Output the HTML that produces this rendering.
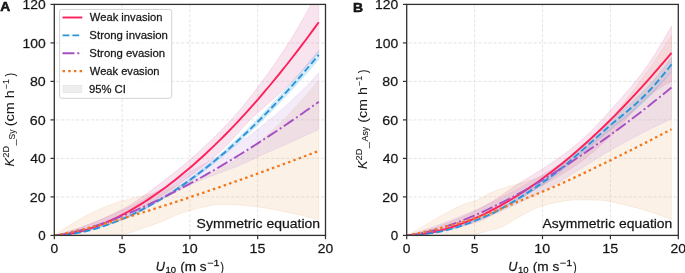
<!DOCTYPE html>
<html><head><meta charset="utf-8"><style>
html,body{margin:0;padding:0;background:#fff;}
svg{display:block;}
svg{will-change:transform;}
text{font-family:"Liberation Sans", sans-serif;fill:#1a1a1a;stroke:#000;stroke-width:0.3px;stroke-opacity:0.7;}
.tk{font-size:13px;}
.lg{font-size:10.3px;}
.ann{font-size:12.4px;}
.al{font-size:13px;}
.pl{font-size:12.6px;font-weight:bold;fill:#000;}
</style></head><body>
<svg width="685" height="273" viewBox="0 0 685 273">
<rect width="685" height="273" fill="#fff"/>
<defs><clipPath id="ca"><rect x="54.30" y="4.40" width="271.20" height="231.00"/></clipPath><clipPath id="cb"><rect x="406.70" y="4.40" width="271.60" height="231.00"/></clipPath></defs>
<line x1="122.10" y1="235.40" x2="122.10" y2="4.40" stroke="#dedede" stroke-width="0.8" stroke-dasharray="3.2 1.8" stroke-dashoffset="2.0"/>
<line x1="189.90" y1="235.40" x2="189.90" y2="4.40" stroke="#dedede" stroke-width="0.8" stroke-dasharray="3.2 1.8" stroke-dashoffset="2.0"/>
<line x1="257.70" y1="235.40" x2="257.70" y2="4.40" stroke="#dedede" stroke-width="0.8" stroke-dasharray="3.2 1.8" stroke-dashoffset="2.0"/>
<line x1="54.30" y1="196.90" x2="325.50" y2="196.90" stroke="#dedede" stroke-width="0.8" stroke-dasharray="3.2 1.8" stroke-dashoffset="3.2"/>
<line x1="54.30" y1="158.40" x2="325.50" y2="158.40" stroke="#dedede" stroke-width="0.8" stroke-dasharray="3.2 1.8" stroke-dashoffset="3.2"/>
<line x1="54.30" y1="119.90" x2="325.50" y2="119.90" stroke="#dedede" stroke-width="0.8" stroke-dasharray="3.2 1.8" stroke-dashoffset="3.2"/>
<line x1="54.30" y1="81.40" x2="325.50" y2="81.40" stroke="#dedede" stroke-width="0.8" stroke-dasharray="3.2 1.8" stroke-dashoffset="3.2"/>
<line x1="54.30" y1="42.90" x2="325.50" y2="42.90" stroke="#dedede" stroke-width="0.8" stroke-dasharray="3.2 1.8" stroke-dashoffset="3.2"/>
<g clip-path="url(#ca)">
<path d="M54.30,235.40 L57.65,233.03 L60.99,230.73 L64.34,228.51 L67.69,226.35 L71.04,224.26 L74.38,222.28 L77.73,220.34 L81.08,218.44 L84.42,216.61 L87.77,214.85 L91.12,213.17 L94.47,211.58 L97.81,210.02 L101.16,208.51 L104.51,207.06 L107.85,205.68 L111.20,204.40 L114.55,203.23 L117.89,202.16 L121.24,201.17 L124.59,200.25 L127.94,199.39 L131.28,198.56 L134.63,197.76 L137.98,196.97 L141.32,196.19 L144.67,195.38 L148.02,194.56 L151.37,193.69 L154.71,192.76 L158.06,191.80 L161.41,190.82 L164.75,189.82 L168.10,188.81 L171.45,187.78 L174.80,186.71 L178.14,185.62 L181.49,184.50 L184.84,183.34 L188.18,182.13 L191.53,180.89 L194.88,179.62 L198.22,178.33 L201.57,177.00 L204.92,175.63 L208.27,174.22 L211.61,172.76 L214.96,171.24 L218.31,169.66 L221.65,168.01 L225.00,166.28 L228.35,164.47 L231.70,162.57 L235.04,160.52 L238.39,158.32 L241.74,155.99 L245.08,153.52 L248.43,150.95 L251.78,148.28 L255.13,145.51 L258.47,142.68 L261.82,139.78 L265.17,136.83 L268.51,133.85 L271.86,130.84 L275.21,127.81 L278.55,124.68 L281.90,121.41 L285.25,118.04 L288.60,114.57 L291.94,111.02 L295.29,107.42 L298.64,103.78 L301.98,100.09 L305.33,96.32 L308.68,92.46 L312.03,88.52 L315.37,84.51 L318.72,80.44 L318.72,219.62 L315.37,218.78 L312.03,217.97 L308.68,217.16 L305.33,216.37 L301.98,215.60 L298.64,214.83 L295.29,214.09 L291.94,213.35 L288.60,212.62 L285.25,211.89 L281.90,211.18 L278.55,210.49 L275.21,209.83 L271.86,209.19 L268.51,208.59 L265.17,207.99 L261.82,207.43 L258.47,206.94 L255.13,206.52 L251.78,206.13 L248.43,205.77 L245.08,205.45 L241.74,205.19 L238.39,204.99 L235.04,204.83 L231.70,204.69 L228.35,204.56 L225.00,204.47 L221.65,204.41 L218.31,204.45 L214.96,204.79 L211.61,205.36 L208.27,206.08 L204.92,206.85 L201.57,207.57 L198.22,208.31 L194.88,209.12 L191.53,210.00 L188.18,210.94 L184.84,211.97 L181.49,213.11 L178.14,214.37 L174.80,215.79 L171.45,217.32 L168.10,218.87 L164.75,220.35 L161.41,221.69 L158.06,222.97 L154.71,224.21 L151.37,225.41 L148.02,226.57 L144.67,227.71 L141.32,228.81 L137.98,229.92 L134.63,231.11 L131.28,232.25 L127.94,233.17 L124.59,233.75 L121.24,234.14 L117.89,234.48 L114.55,234.75 L111.20,234.93 L107.85,235.03 L104.51,235.09 L101.16,235.14 L97.81,235.18 L94.47,235.21 L91.12,235.24 L87.77,235.27 L84.42,235.29 L81.08,235.31 L77.73,235.32 L74.38,235.34 L71.04,235.36 L67.69,235.37 L64.34,235.38 L60.99,235.39 L57.65,235.40 L54.30,235.40 Z" fill="rgb(235,185,135)" fill-opacity="0.2" stroke="rgb(235,185,135)" stroke-opacity="0.2" stroke-width="1"/>
<path d="M54.30,235.40 L57.65,234.48 L60.99,233.52 L64.34,232.52 L67.69,231.48 L71.04,230.41 L74.38,229.30 L77.73,228.16 L81.08,226.99 L84.42,225.79 L87.77,224.55 L91.12,223.29 L94.47,222.00 L97.81,220.68 L101.16,219.33 L104.51,217.96 L107.85,216.56 L111.20,215.15 L114.55,213.70 L117.89,212.24 L121.24,210.76 L124.59,209.24 L127.94,207.65 L131.28,205.99 L134.63,204.26 L137.98,202.48 L141.32,200.65 L144.67,198.77 L148.02,196.85 L151.37,194.90 L154.71,192.91 L158.06,190.91 L161.41,188.89 L164.75,186.86 L168.10,184.83 L171.45,182.79 L174.80,180.77 L178.14,178.75 L181.49,176.76 L184.84,174.79 L188.18,172.85 L191.53,170.95 L194.88,169.09 L198.22,167.25 L201.57,165.43 L204.92,163.62 L208.27,161.80 L211.61,159.97 L214.96,158.11 L218.31,156.21 L221.65,154.27 L225.00,152.27 L228.35,150.20 L231.70,148.05 L235.04,145.84 L238.39,143.56 L241.74,141.23 L245.08,138.84 L248.43,136.40 L251.78,133.91 L255.13,131.37 L258.47,128.78 L261.82,126.14 L265.17,123.46 L268.51,120.74 L271.86,117.98 L275.21,115.19 L278.55,112.34 L281.90,109.42 L285.25,106.44 L288.60,103.39 L291.94,100.27 L295.29,97.09 L298.64,93.85 L301.98,90.55 L305.33,87.19 L308.68,83.77 L312.03,80.26 L315.37,76.55 L318.72,72.74 L318.72,129.33 L315.37,130.90 L312.03,132.46 L308.68,134.02 L305.33,135.57 L301.98,137.11 L298.64,138.64 L295.29,140.16 L291.94,141.68 L288.60,143.18 L285.25,144.67 L281.90,146.15 L278.55,147.62 L275.21,149.08 L271.86,150.55 L268.51,152.03 L265.17,153.52 L261.82,155.03 L258.47,156.59 L255.13,158.18 L251.78,159.79 L248.43,161.38 L245.08,162.93 L241.74,164.43 L238.39,165.83 L235.04,167.17 L231.70,168.45 L228.35,169.70 L225.00,170.95 L221.65,172.21 L218.31,173.49 L214.96,174.74 L211.61,175.99 L208.27,177.25 L204.92,178.55 L201.57,179.90 L198.22,181.34 L194.88,182.83 L191.53,184.38 L188.18,185.98 L184.84,187.62 L181.49,189.29 L178.14,190.98 L174.80,192.69 L171.45,194.40 L168.10,196.12 L164.75,197.83 L161.41,199.53 L158.06,201.32 L154.71,203.19 L151.37,205.12 L148.02,207.08 L144.67,209.03 L141.32,210.95 L137.98,212.82 L134.63,214.60 L131.28,216.26 L127.94,217.78 L124.59,219.13 L121.24,220.28 L117.89,221.37 L114.55,222.45 L111.20,223.51 L107.85,224.56 L104.51,225.58 L101.16,226.57 L97.81,227.54 L94.47,228.47 L91.12,229.36 L87.77,230.21 L84.42,231.01 L81.08,231.75 L77.73,232.45 L74.38,233.08 L71.04,233.65 L67.69,234.15 L64.34,234.58 L60.99,234.94 L57.65,235.21 L54.30,235.40 Z" fill="rgb(195,155,220)" fill-opacity="0.2" stroke="rgb(195,155,220)" stroke-opacity="0.2" stroke-width="1"/>
<path d="M54.30,235.40 L57.65,235.32 L60.99,235.12 L64.34,234.83 L67.69,234.46 L71.04,234.00 L74.38,233.47 L77.73,232.86 L81.08,232.19 L84.42,231.44 L87.77,230.63 L91.12,229.75 L94.47,228.81 L97.81,227.81 L101.16,226.74 L104.51,225.62 L107.85,224.44 L111.20,223.19 L114.55,221.89 L117.89,220.54 L121.24,219.13 L124.59,217.66 L127.94,216.14 L131.28,214.56 L134.63,212.93 L137.98,211.24 L141.32,209.51 L144.67,207.72 L148.02,205.88 L151.37,203.99 L154.71,202.04 L158.06,200.05 L161.41,198.01 L164.75,195.91 L168.10,193.77 L171.45,191.58 L174.80,189.34 L178.14,187.05 L181.49,184.71 L184.84,182.33 L188.18,179.90 L191.53,177.42 L194.88,174.89 L198.22,172.32 L201.57,169.70 L204.92,167.03 L208.27,164.32 L211.61,161.56 L214.96,158.76 L218.31,155.91 L221.65,153.02 L225.00,150.08 L228.35,147.09 L231.70,144.06 L235.04,140.99 L238.39,137.88 L241.74,134.72 L245.08,131.51 L248.43,128.26 L251.78,124.97 L255.13,121.64 L258.47,118.26 L261.82,114.84 L265.17,111.38 L268.51,107.87 L271.86,104.32 L275.21,100.73 L278.55,97.10 L281.90,93.43 L285.25,89.71 L288.60,85.95 L291.94,82.15 L295.29,78.31 L298.64,74.43 L301.98,70.50 L305.33,66.54 L308.68,62.53 L312.03,58.49 L315.37,54.40 L318.72,50.27 L318.72,59.30 L315.37,63.23 L312.03,67.12 L308.68,70.97 L305.33,74.78 L301.98,78.55 L298.64,82.28 L295.29,85.97 L291.94,89.63 L288.60,93.24 L285.25,96.82 L281.90,100.35 L278.55,103.85 L275.21,107.30 L271.86,110.72 L268.51,114.09 L265.17,117.43 L261.82,120.72 L258.47,123.97 L255.13,127.19 L251.78,130.36 L248.43,133.49 L245.08,136.58 L241.74,139.63 L238.39,142.63 L235.04,145.60 L231.70,148.52 L228.35,151.40 L225.00,154.24 L221.65,157.03 L218.31,159.79 L214.96,162.50 L211.61,165.16 L208.27,167.79 L204.92,170.37 L201.57,172.90 L198.22,175.39 L194.88,177.84 L191.53,180.25 L188.18,182.60 L184.84,184.92 L181.49,187.19 L178.14,189.41 L174.80,191.59 L171.45,193.72 L168.10,195.80 L164.75,197.84 L161.41,199.83 L158.06,201.78 L154.71,203.67 L151.37,205.52 L148.02,207.32 L144.67,209.07 L141.32,210.77 L137.98,212.42 L134.63,214.02 L131.28,215.58 L127.94,217.08 L124.59,218.52 L121.24,219.92 L117.89,221.26 L114.55,222.55 L111.20,223.79 L107.85,224.97 L104.51,226.10 L101.16,227.17 L97.81,228.18 L94.47,229.13 L91.12,230.03 L87.77,230.86 L84.42,231.63 L81.08,232.34 L77.73,232.99 L74.38,233.56 L71.04,234.07 L67.69,234.50 L64.34,234.86 L60.99,235.14 L57.65,235.32 L54.30,235.40 Z" fill="rgb(55,170,230)" fill-opacity="0.2" stroke="rgb(55,170,230)" stroke-opacity="0.2" stroke-width="1"/>
<path d="M54.30,235.40 L57.65,234.71 L60.99,233.94 L64.34,233.08 L67.69,232.16 L71.04,231.16 L74.38,230.09 L77.73,228.96 L81.08,227.76 L84.42,226.51 L87.77,225.20 L91.12,223.84 L94.47,222.44 L97.81,220.98 L101.16,219.49 L104.51,217.96 L107.85,216.39 L111.20,214.79 L114.55,213.17 L117.89,211.52 L121.24,209.84 L124.59,208.11 L127.94,206.24 L131.28,204.22 L134.63,202.08 L137.98,199.84 L141.32,197.51 L144.67,195.10 L148.02,192.64 L151.37,190.14 L154.71,187.61 L158.06,185.07 L161.41,182.53 L164.75,180.01 L168.10,177.45 L171.45,174.85 L174.80,172.20 L178.14,169.51 L181.49,166.77 L184.84,163.98 L188.18,161.15 L191.53,158.26 L194.88,155.33 L198.22,152.34 L201.57,149.30 L204.92,146.20 L208.27,143.04 L211.61,139.82 L214.96,136.54 L218.31,133.18 L221.65,129.77 L225.00,126.28 L228.35,122.72 L231.70,119.10 L235.04,115.39 L238.39,111.60 L241.74,107.66 L245.08,103.59 L248.43,99.41 L251.78,95.13 L255.13,90.77 L258.47,86.35 L261.82,81.86 L265.17,77.30 L268.51,72.67 L271.86,67.96 L275.21,63.17 L278.55,58.29 L281.90,53.32 L285.25,48.25 L288.60,43.09 L291.94,37.78 L295.29,32.21 L298.64,26.47 L301.98,20.61 L305.33,14.73 L308.68,8.90 L312.03,3.18 L315.37,-2.47 L318.72,-8.11 L318.72,52.53 L315.37,56.36 L312.03,60.14 L308.68,63.88 L305.33,67.56 L301.98,71.18 L298.64,74.73 L295.29,78.21 L291.94,81.62 L288.60,84.95 L285.25,88.16 L281.90,91.27 L278.55,94.30 L275.21,97.27 L271.86,100.21 L268.51,103.13 L265.17,106.06 L261.82,109.03 L258.47,112.04 L255.13,115.14 L251.78,118.32 L248.43,121.64 L245.08,125.16 L241.74,128.84 L238.39,132.60 L235.04,136.38 L231.70,140.11 L228.35,143.71 L225.00,147.12 L221.65,150.28 L218.31,153.27 L214.96,156.19 L211.61,159.04 L208.27,161.83 L204.92,164.56 L201.57,167.23 L198.22,169.85 L194.88,172.42 L191.53,174.93 L188.18,177.40 L184.84,179.83 L181.49,182.22 L178.14,184.57 L174.80,186.89 L171.45,189.18 L168.10,191.43 L164.75,193.67 L161.41,195.89 L158.06,198.13 L154.71,200.41 L151.37,202.68 L148.02,204.92 L144.67,207.13 L141.32,209.26 L137.98,211.30 L134.63,213.23 L131.28,215.02 L127.94,216.65 L124.59,218.09 L121.24,219.34 L117.89,220.53 L114.55,221.70 L111.20,222.86 L107.85,224.01 L104.51,225.12 L101.16,226.21 L97.81,227.26 L94.47,228.27 L91.12,229.24 L87.77,230.15 L84.42,231.01 L81.08,231.81 L77.73,232.55 L74.38,233.21 L71.04,233.79 L67.69,234.30 L64.34,234.72 L60.99,235.04 L57.65,235.27 L54.30,235.40 Z" fill="rgb(220,120,170)" fill-opacity="0.2" stroke="rgb(220,120,170)" stroke-opacity="0.2" stroke-width="1"/>
<path d="M54.30,235.40 L57.65,235.28 L60.99,235.02 L64.34,234.63 L67.69,234.14 L71.04,233.55 L74.38,232.87 L77.73,232.10 L81.08,231.25 L84.42,230.32 L87.77,229.31 L91.12,228.22 L94.47,227.06 L97.81,225.83 L101.16,224.53 L104.51,223.16 L107.85,221.73 L111.20,220.22 L114.55,218.66 L117.89,217.02 L121.24,215.33 L124.59,213.57 L127.94,211.75 L131.28,209.87 L134.63,207.94 L137.98,205.94 L141.32,203.88 L144.67,201.77 L148.02,199.60 L151.37,197.37 L154.71,195.09 L158.06,192.75 L161.41,190.35 L164.75,187.91 L168.10,185.40 L171.45,182.85 L174.80,180.24 L178.14,177.58 L181.49,174.86 L184.84,172.10 L188.18,169.28 L191.53,166.41 L194.88,163.49 L198.22,160.52 L201.57,157.50 L204.92,154.43 L208.27,151.31 L211.61,148.14 L214.96,144.92 L218.31,141.66 L221.65,138.34 L225.00,134.98 L228.35,131.57 L231.70,128.11 L235.04,124.61 L238.39,121.05 L241.74,117.45 L245.08,113.81 L248.43,110.12 L251.78,106.38 L255.13,102.59 L258.47,98.76 L261.82,94.89 L265.17,90.97 L268.51,87.00 L271.86,82.99 L275.21,78.94 L278.55,74.84 L281.90,70.69 L285.25,66.50 L288.60,62.27 L291.94,58.00 L295.29,53.68 L298.64,49.31 L301.98,44.91 L305.33,40.46 L308.68,35.97 L312.03,31.43 L315.37,26.85 L318.72,22.23" fill="none" stroke="#FF1F5B" stroke-width="1.9"/>
<path d="M54.30,235.40 L57.65,235.32 L60.99,235.13 L64.34,234.85 L67.69,234.48 L71.04,234.04 L74.38,233.52 L77.73,232.92 L81.08,232.26 L84.42,231.54 L87.77,230.74 L91.12,229.89 L94.47,228.97 L97.81,227.99 L101.16,226.96 L104.51,225.86 L107.85,224.70 L111.20,223.49 L114.55,222.22 L117.89,220.90 L121.24,219.52 L124.59,218.09 L127.94,216.61 L131.28,215.07 L134.63,213.48 L137.98,211.83 L141.32,210.14 L144.67,208.39 L148.02,206.60 L151.37,204.75 L154.71,202.86 L158.06,200.91 L161.41,198.92 L164.75,196.88 L168.10,194.79 L171.45,192.65 L174.80,190.46 L178.14,188.23 L181.49,185.95 L184.84,183.62 L188.18,181.25 L191.53,178.83 L194.88,176.37 L198.22,173.86 L201.57,171.30 L204.92,168.70 L208.27,166.05 L211.61,163.36 L214.96,160.63 L218.31,157.85 L221.65,155.02 L225.00,152.16 L228.35,149.25 L231.70,146.29 L235.04,143.30 L238.39,140.25 L241.74,137.17 L245.08,134.05 L248.43,130.88 L251.78,127.67 L255.13,124.41 L258.47,121.12 L261.82,117.78 L265.17,114.40 L268.51,110.98 L271.86,107.52 L275.21,104.02 L278.55,100.47 L281.90,96.89 L285.25,93.26 L288.60,89.60 L291.94,85.89 L295.29,82.14 L298.64,78.35 L301.98,74.53 L305.33,70.66 L308.68,66.75 L312.03,62.80 L315.37,58.82 L318.72,54.79" fill="none" stroke="#2B93DB" stroke-width="1.9" stroke-dasharray="6.8 3.1"/>
<path d="M54.30,235.40 L57.65,235.13 L60.99,234.68 L64.34,234.12 L67.69,233.47 L71.04,232.75 L74.38,231.96 L77.73,231.12 L81.08,230.23 L84.42,229.29 L87.77,228.30 L91.12,227.27 L94.47,226.21 L97.81,225.10 L101.16,223.96 L104.51,222.78 L107.85,221.57 L111.20,220.32 L114.55,219.05 L117.89,217.74 L121.24,216.41 L124.59,215.05 L127.94,213.66 L131.28,212.24 L134.63,210.80 L137.98,209.33 L141.32,207.83 L144.67,206.32 L148.02,204.78 L151.37,203.21 L154.71,201.62 L158.06,200.01 L161.41,198.38 L164.75,196.73 L168.10,195.05 L171.45,193.36 L174.80,191.64 L178.14,189.91 L181.49,188.15 L184.84,186.38 L188.18,184.58 L191.53,182.77 L194.88,180.94 L198.22,179.08 L201.57,177.22 L204.92,175.33 L208.27,173.43 L211.61,171.50 L214.96,169.56 L218.31,167.61 L221.65,165.63 L225.00,163.65 L228.35,161.64 L231.70,159.62 L235.04,157.58 L238.39,155.52 L241.74,153.45 L245.08,151.37 L248.43,149.27 L251.78,147.15 L255.13,145.02 L258.47,142.87 L261.82,140.71 L265.17,138.54 L268.51,136.35 L271.86,134.14 L275.21,131.92 L278.55,129.69 L281.90,127.44 L285.25,125.18 L288.60,122.90 L291.94,120.61 L295.29,118.31 L298.64,116.00 L301.98,113.67 L305.33,111.32 L308.68,108.97 L312.03,106.60 L315.37,104.22 L318.72,101.82" fill="none" stroke="#A64FC2" stroke-width="1.9" stroke-dasharray="11.9 2.9 2 2.9"/>
<path d="M54.30,235.40 L57.65,234.93 L60.99,234.34 L64.34,233.68 L67.69,232.97 L71.04,232.23 L74.38,231.47 L77.73,230.68 L81.08,229.86 L84.42,229.03 L87.77,228.18 L91.12,227.31 L94.47,226.43 L97.81,225.53 L101.16,224.62 L104.51,223.70 L107.85,222.77 L111.20,221.82 L114.55,220.87 L117.89,219.90 L121.24,218.92 L124.59,217.94 L127.94,216.95 L131.28,215.94 L134.63,214.93 L137.98,213.91 L141.32,212.89 L144.67,211.85 L148.02,210.81 L151.37,209.76 L154.71,208.71 L158.06,207.65 L161.41,206.58 L164.75,205.50 L168.10,204.42 L171.45,203.33 L174.80,202.24 L178.14,201.14 L181.49,200.04 L184.84,198.93 L188.18,197.81 L191.53,196.69 L194.88,195.56 L198.22,194.43 L201.57,193.30 L204.92,192.16 L208.27,191.01 L211.61,189.86 L214.96,188.70 L218.31,187.54 L221.65,186.38 L225.00,185.21 L228.35,184.04 L231.70,182.86 L235.04,181.68 L238.39,180.49 L241.74,179.30 L245.08,178.11 L248.43,176.91 L251.78,175.71 L255.13,174.50 L258.47,173.29 L261.82,172.08 L265.17,170.86 L268.51,169.64 L271.86,168.42 L275.21,167.19 L278.55,165.96 L281.90,164.72 L285.25,163.48 L288.60,162.24 L291.94,160.99 L295.29,159.75 L298.64,158.49 L301.98,157.24 L305.33,155.98 L308.68,154.72 L312.03,153.45 L315.37,152.19 L318.72,150.91" fill="none" stroke="#F2771C" stroke-width="2.3" stroke-dasharray="2.5 3.2"/>
</g>
<rect x="54.30" y="4.40" width="271.20" height="231.00" fill="none" stroke="#303030" stroke-width="1.3"/>
<line x1="54.30" y1="235.40" x2="54.30" y2="239.20" stroke="#303030" stroke-width="1.2"/>
<line x1="122.10" y1="235.40" x2="122.10" y2="239.20" stroke="#303030" stroke-width="1.2"/>
<line x1="189.90" y1="235.40" x2="189.90" y2="239.20" stroke="#303030" stroke-width="1.2"/>
<line x1="257.70" y1="235.40" x2="257.70" y2="239.20" stroke="#303030" stroke-width="1.2"/>
<line x1="325.50" y1="235.40" x2="325.50" y2="239.20" stroke="#303030" stroke-width="1.2"/>
<line x1="50.50" y1="235.40" x2="54.30" y2="235.40" stroke="#303030" stroke-width="1.2"/>
<line x1="50.50" y1="196.90" x2="54.30" y2="196.90" stroke="#303030" stroke-width="1.2"/>
<line x1="50.50" y1="158.40" x2="54.30" y2="158.40" stroke="#303030" stroke-width="1.2"/>
<line x1="50.50" y1="119.90" x2="54.30" y2="119.90" stroke="#303030" stroke-width="1.2"/>
<line x1="50.50" y1="81.40" x2="54.30" y2="81.40" stroke="#303030" stroke-width="1.2"/>
<line x1="50.50" y1="42.90" x2="54.30" y2="42.90" stroke="#303030" stroke-width="1.2"/>
<line x1="50.50" y1="4.40" x2="54.30" y2="4.40" stroke="#303030" stroke-width="1.2"/>
<text x="50.46" y="253.00" font-size="13.3" textLength="7.68" lengthAdjust="spacingAndGlyphs" fill="#000">0</text>
<text x="118.24" y="253.00" font-size="13.3" textLength="7.74" lengthAdjust="spacingAndGlyphs" fill="#000">5</text>
<text x="181.72" y="253.00" font-size="13.3" textLength="15.84" lengthAdjust="spacingAndGlyphs" fill="#000">10</text>
<text x="249.51" y="253.00" font-size="13.3" textLength="15.89" lengthAdjust="spacingAndGlyphs" fill="#000">15</text>
<text x="317.70" y="253.00" font-size="13.3" textLength="15.44" lengthAdjust="spacingAndGlyphs" fill="#000">20</text>
<text x="38.28" y="240.05" font-size="13.3" textLength="7.45" lengthAdjust="spacingAndGlyphs" fill="#000">0</text>
<text x="29.88" y="201.55" font-size="13.3" textLength="15.88" lengthAdjust="spacingAndGlyphs" fill="#000">20</text>
<text x="30.28" y="163.05" font-size="13.3" textLength="15.46" lengthAdjust="spacingAndGlyphs" fill="#000">40</text>
<text x="29.87" y="124.55" font-size="13.3" textLength="15.88" lengthAdjust="spacingAndGlyphs" fill="#000">60</text>
<text x="29.98" y="86.05" font-size="13.3" textLength="15.77" lengthAdjust="spacingAndGlyphs" fill="#000">80</text>
<text x="22.54" y="47.55" font-size="13.3" textLength="23.20" lengthAdjust="spacingAndGlyphs" fill="#000">100</text>
<text x="22.54" y="9.05" font-size="13.3" textLength="23.20" lengthAdjust="spacingAndGlyphs" fill="#000">120</text>
<line x1="474.60" y1="235.40" x2="474.60" y2="4.40" stroke="#dedede" stroke-width="0.8" stroke-dasharray="3.2 1.8" stroke-dashoffset="2.0"/>
<line x1="542.50" y1="235.40" x2="542.50" y2="4.40" stroke="#dedede" stroke-width="0.8" stroke-dasharray="3.2 1.8" stroke-dashoffset="2.0"/>
<line x1="610.40" y1="235.40" x2="610.40" y2="4.40" stroke="#dedede" stroke-width="0.8" stroke-dasharray="3.2 1.8" stroke-dashoffset="2.0"/>
<line x1="406.70" y1="196.90" x2="678.30" y2="196.90" stroke="#dedede" stroke-width="0.8" stroke-dasharray="3.2 1.8" stroke-dashoffset="3.2"/>
<line x1="406.70" y1="158.40" x2="678.30" y2="158.40" stroke="#dedede" stroke-width="0.8" stroke-dasharray="3.2 1.8" stroke-dashoffset="3.2"/>
<line x1="406.70" y1="119.90" x2="678.30" y2="119.90" stroke="#dedede" stroke-width="0.8" stroke-dasharray="3.2 1.8" stroke-dashoffset="3.2"/>
<line x1="406.70" y1="81.40" x2="678.30" y2="81.40" stroke="#dedede" stroke-width="0.8" stroke-dasharray="3.2 1.8" stroke-dashoffset="3.2"/>
<line x1="406.70" y1="42.90" x2="678.30" y2="42.90" stroke="#dedede" stroke-width="0.8" stroke-dasharray="3.2 1.8" stroke-dashoffset="3.2"/>
<g clip-path="url(#cb)">
<path d="M406.70,235.40 L410.05,233.63 L413.40,231.82 L416.76,229.97 L420.11,228.07 L423.46,226.13 L426.81,224.17 L430.16,222.20 L433.52,220.18 L436.87,218.18 L440.22,216.23 L443.57,214.28 L446.92,212.40 L450.28,210.63 L453.63,208.93 L456.98,207.27 L460.33,205.71 L463.68,204.31 L467.04,203.13 L470.39,202.25 L473.74,201.36 L477.09,200.08 L480.44,198.32 L483.80,196.33 L487.15,194.41 L490.50,192.82 L493.85,191.48 L497.20,190.25 L500.56,189.10 L503.91,188.01 L507.26,186.95 L510.61,185.90 L513.96,184.91 L517.32,183.98 L520.67,183.07 L524.02,182.15 L527.37,181.17 L530.72,180.11 L534.08,179.00 L537.43,177.81 L540.78,176.48 L544.13,174.95 L547.49,173.22 L550.84,171.31 L554.19,169.23 L557.54,167.00 L560.89,164.66 L564.25,162.20 L567.60,159.65 L570.95,157.03 L574.30,154.36 L577.65,151.64 L581.01,148.79 L584.36,145.79 L587.71,142.65 L591.06,139.39 L594.41,136.02 L597.77,132.54 L601.12,128.98 L604.47,125.34 L607.82,121.63 L611.17,117.87 L614.53,114.02 L617.88,110.05 L621.23,105.98 L624.58,101.81 L627.93,97.54 L631.29,93.19 L634.64,88.77 L637.99,84.26 L641.34,79.70 L644.69,75.07 L648.05,70.39 L651.40,65.66 L654.75,60.89 L658.10,56.02 L661.45,50.99 L664.81,45.81 L668.16,40.54 L671.51,35.20 L671.51,219.42 L668.16,218.15 L664.81,216.92 L661.45,215.71 L658.10,214.55 L654.75,213.44 L651.40,212.35 L648.05,211.30 L644.69,210.26 L641.34,209.27 L637.99,208.31 L634.64,207.39 L631.29,206.52 L627.93,205.67 L624.58,204.84 L621.23,204.05 L617.88,203.30 L614.53,202.60 L611.17,201.95 L607.82,201.28 L604.47,200.64 L601.12,200.22 L597.77,200.14 L594.41,200.09 L591.06,200.06 L587.71,200.03 L584.36,200.00 L581.01,199.99 L577.65,199.98 L574.30,199.99 L570.95,200.16 L567.60,200.55 L564.25,201.07 L560.89,201.67 L557.54,202.27 L554.19,202.91 L550.84,203.65 L547.49,204.49 L544.13,205.44 L540.78,206.48 L537.43,207.67 L534.08,209.10 L530.72,210.72 L527.37,212.47 L524.02,214.30 L520.67,216.16 L517.32,217.99 L513.96,219.86 L510.61,221.95 L507.26,224.07 L503.91,225.99 L500.56,227.50 L497.20,228.52 L493.85,229.30 L490.50,230.06 L487.15,230.99 L483.80,232.05 L480.44,233.10 L477.09,233.98 L473.74,234.56 L470.39,234.82 L467.04,235.02 L463.68,235.16 L460.33,235.21 L456.98,235.23 L453.63,235.25 L450.28,235.26 L446.92,235.27 L443.57,235.28 L440.22,235.29 L436.87,235.29 L433.52,235.30 L430.16,235.32 L426.81,235.33 L423.46,235.34 L420.11,235.35 L416.76,235.36 L413.40,235.38 L410.05,235.39 L406.70,235.40 Z" fill="rgb(235,185,135)" fill-opacity="0.2" stroke="rgb(235,185,135)" stroke-opacity="0.2" stroke-width="1"/>
<path d="M406.70,235.40 L410.05,234.41 L413.40,233.39 L416.76,232.34 L420.11,231.27 L423.46,230.16 L426.81,229.03 L430.16,227.88 L433.52,226.69 L436.87,225.49 L440.22,224.26 L443.57,223.00 L446.92,221.72 L450.28,220.42 L453.63,219.10 L456.98,217.75 L460.33,216.39 L463.68,215.01 L467.04,213.61 L470.39,212.18 L473.74,210.75 L477.09,209.29 L480.44,207.79 L483.80,206.25 L487.15,204.69 L490.50,203.08 L493.85,201.45 L497.20,199.78 L500.56,198.08 L503.91,196.36 L507.26,194.60 L510.61,192.82 L513.96,191.02 L517.32,189.19 L520.67,187.33 L524.02,185.45 L527.37,183.56 L530.72,181.64 L534.08,179.70 L537.43,177.75 L540.78,175.78 L544.13,173.79 L547.49,171.78 L550.84,169.75 L554.19,167.69 L557.54,165.61 L560.89,163.50 L564.25,161.36 L567.60,159.19 L570.95,156.99 L574.30,154.77 L577.65,152.51 L581.01,150.21 L584.36,147.89 L587.71,145.53 L591.06,143.13 L594.41,140.70 L597.77,138.23 L601.12,135.72 L604.47,133.17 L607.82,130.58 L611.17,127.95 L614.53,125.27 L617.88,122.52 L621.23,119.72 L624.58,116.87 L627.93,113.95 L631.29,110.99 L634.64,107.97 L637.99,104.90 L641.34,101.79 L644.69,98.62 L648.05,95.41 L651.40,92.16 L654.75,88.86 L658.10,85.52 L661.45,82.14 L664.81,78.72 L668.16,75.27 L671.51,71.78 L671.51,118.75 L668.16,120.33 L664.81,121.94 L661.45,123.55 L658.10,125.19 L654.75,126.83 L651.40,128.50 L648.05,130.18 L644.69,131.87 L641.34,133.58 L637.99,135.31 L634.64,137.06 L631.29,138.82 L627.93,140.60 L624.58,142.39 L621.23,144.20 L617.88,146.04 L614.53,147.93 L611.17,149.86 L607.82,151.84 L604.47,153.86 L601.12,155.90 L597.77,157.98 L594.41,160.07 L591.06,162.18 L587.71,164.30 L584.36,166.42 L581.01,168.55 L577.65,170.66 L574.30,172.77 L570.95,174.86 L567.60,176.92 L564.25,178.96 L560.89,180.96 L557.54,182.93 L554.19,184.85 L550.84,186.72 L547.49,188.54 L544.13,190.29 L540.78,191.99 L537.43,193.69 L534.08,195.39 L530.72,197.08 L527.37,198.77 L524.02,200.44 L520.67,202.10 L517.32,203.74 L513.96,205.35 L510.61,206.94 L507.26,208.49 L503.91,210.00 L500.56,211.47 L497.20,212.89 L493.85,214.27 L490.50,215.59 L487.15,216.85 L483.80,218.04 L480.44,219.17 L477.09,220.23 L473.74,221.21 L470.39,222.16 L467.04,223.10 L463.68,224.02 L460.33,224.92 L456.98,225.81 L453.63,226.67 L450.28,227.51 L446.92,228.32 L443.57,229.11 L440.22,229.87 L436.87,230.59 L433.52,231.29 L430.16,231.94 L426.81,232.56 L423.46,233.14 L420.11,233.69 L416.76,234.18 L413.40,234.64 L410.05,235.04 L406.70,235.40 Z" fill="rgb(195,155,220)" fill-opacity="0.2" stroke="rgb(195,155,220)" stroke-opacity="0.2" stroke-width="1"/>
<path d="M406.70,235.40 L410.05,235.29 L413.40,235.12 L416.76,234.88 L420.11,234.61 L423.46,234.28 L426.81,233.85 L430.16,233.34 L433.52,232.75 L436.87,232.11 L440.22,231.43 L443.57,230.69 L446.92,229.86 L450.28,228.96 L453.63,227.97 L456.98,226.91 L460.33,225.78 L463.68,224.60 L467.04,223.36 L470.39,222.07 L473.74,220.73 L477.09,219.36 L480.44,217.95 L483.80,216.50 L487.15,214.95 L490.50,213.33 L493.85,211.62 L497.20,209.84 L500.56,207.99 L503.91,206.07 L507.26,204.09 L510.61,202.05 L513.96,199.96 L517.32,197.82 L520.67,195.63 L524.02,193.40 L527.37,191.13 L530.72,188.83 L534.08,186.50 L537.43,184.15 L540.78,181.77 L544.13,179.37 L547.49,176.88 L550.84,174.29 L554.19,171.62 L557.54,168.87 L560.89,166.04 L564.25,163.16 L567.60,160.21 L570.95,157.22 L574.30,154.19 L577.65,151.12 L581.01,148.03 L584.36,144.91 L587.71,141.79 L591.06,138.65 L594.41,135.53 L597.77,132.41 L601.12,129.31 L604.47,126.24 L607.82,123.20 L611.17,120.20 L614.53,117.26 L617.88,114.36 L621.23,111.48 L624.58,108.60 L627.93,105.70 L631.29,102.74 L634.64,99.70 L637.99,96.57 L641.34,93.31 L644.69,89.90 L648.05,86.33 L651.40,82.61 L654.75,78.74 L658.10,74.74 L661.45,70.62 L664.81,66.39 L668.16,62.05 L671.51,57.62 L671.51,71.30 L668.16,75.39 L664.81,79.39 L661.45,83.30 L658.10,87.10 L654.75,90.79 L651.40,94.36 L648.05,97.80 L644.69,101.09 L641.34,104.24 L637.99,107.25 L634.64,110.14 L631.29,112.94 L627.93,115.67 L624.58,118.36 L621.23,121.02 L617.88,123.67 L614.53,126.34 L611.17,129.06 L607.82,131.83 L604.47,134.64 L601.12,137.47 L597.77,140.33 L594.41,143.21 L591.06,146.10 L587.71,148.99 L584.36,151.87 L581.01,154.75 L577.65,157.60 L574.30,160.44 L570.95,163.24 L567.60,166.00 L564.25,168.71 L560.89,171.38 L557.54,173.98 L554.19,176.52 L550.84,178.99 L547.49,181.38 L544.13,183.68 L540.78,185.90 L537.43,188.09 L534.08,190.26 L530.72,192.41 L527.37,194.54 L524.02,196.63 L520.67,198.69 L517.32,200.71 L513.96,202.68 L510.61,204.62 L507.26,206.50 L503.91,208.33 L500.56,210.10 L497.20,211.81 L493.85,213.45 L490.50,215.02 L487.15,216.53 L483.80,217.95 L480.44,219.29 L477.09,220.59 L473.74,221.86 L470.39,223.09 L467.04,224.28 L463.68,225.43 L460.33,226.52 L456.98,227.56 L453.63,228.54 L450.28,229.45 L446.92,230.29 L443.57,231.05 L440.22,231.73 L436.87,232.36 L433.52,232.95 L430.16,233.50 L426.81,233.97 L423.46,234.37 L420.11,234.67 L416.76,234.92 L413.40,235.14 L410.05,235.30 L406.70,235.40 Z" fill="rgb(55,170,230)" fill-opacity="0.2" stroke="rgb(55,170,230)" stroke-opacity="0.2" stroke-width="1"/>
<path d="M406.70,235.40 L410.05,234.72 L413.40,233.97 L416.76,233.16 L420.11,232.28 L423.46,231.34 L426.81,230.34 L430.16,229.29 L433.52,228.18 L436.87,227.02 L440.22,225.81 L443.57,224.56 L446.92,223.27 L450.28,221.94 L453.63,220.57 L456.98,219.16 L460.33,217.73 L463.68,216.27 L467.04,214.78 L470.39,213.27 L473.74,211.73 L477.09,210.15 L480.44,208.42 L483.80,206.56 L487.15,204.59 L490.50,202.53 L493.85,200.39 L497.20,198.18 L500.56,195.94 L503.91,193.66 L507.26,191.38 L510.61,189.10 L513.96,186.85 L517.32,184.64 L520.67,182.48 L524.02,180.37 L527.37,178.28 L530.72,176.20 L534.08,174.12 L537.43,172.04 L540.78,169.93 L544.13,167.80 L547.49,165.64 L550.84,163.43 L554.19,161.16 L557.54,158.82 L560.89,156.42 L564.25,153.95 L567.60,151.42 L570.95,148.83 L574.30,146.16 L577.65,143.40 L581.01,140.55 L584.36,137.61 L587.71,134.55 L591.06,131.32 L594.41,127.90 L597.77,124.35 L601.12,120.68 L604.47,116.94 L607.82,113.17 L611.17,109.41 L614.53,105.66 L617.88,101.92 L621.23,98.16 L624.58,94.36 L627.93,90.49 L631.29,86.54 L634.64,82.47 L637.99,78.27 L641.34,73.91 L644.69,69.38 L648.05,64.63 L651.40,59.66 L654.75,54.50 L658.10,49.14 L661.45,43.62 L664.81,37.94 L668.16,32.11 L671.51,26.15 L671.51,81.40 L668.16,83.09 L664.81,84.94 L661.45,86.95 L658.10,89.10 L654.75,91.40 L651.40,93.84 L648.05,96.45 L644.69,99.38 L641.34,102.60 L637.99,106.05 L634.64,109.69 L631.29,113.46 L627.93,117.29 L624.58,121.14 L621.23,124.94 L617.88,128.65 L614.53,132.19 L611.17,135.53 L607.82,138.68 L604.47,141.79 L601.12,144.87 L597.77,147.89 L594.41,150.84 L591.06,153.70 L587.71,156.46 L584.36,159.10 L581.01,161.61 L577.65,163.99 L574.30,166.29 L570.95,168.52 L567.60,170.69 L564.25,172.79 L560.89,174.84 L557.54,176.85 L554.19,178.81 L550.84,180.73 L547.49,182.63 L544.13,184.51 L540.78,186.37 L537.43,188.22 L534.08,190.06 L530.72,191.91 L527.37,193.77 L524.02,195.64 L520.67,197.53 L517.32,199.48 L513.96,201.51 L510.61,203.61 L507.26,205.74 L503.91,207.88 L500.56,210.00 L497.20,212.08 L493.85,214.09 L490.50,215.99 L487.15,217.78 L483.80,219.41 L480.44,220.86 L477.09,222.11 L473.74,223.13 L470.39,224.08 L467.04,225.02 L463.68,225.95 L460.33,226.85 L456.98,227.74 L453.63,228.59 L450.28,229.41 L446.92,230.20 L443.57,230.95 L440.22,231.65 L436.87,232.31 L433.52,232.92 L430.16,233.46 L426.81,233.95 L423.46,234.38 L420.11,234.74 L416.76,235.02 L413.40,235.23 L410.05,235.36 L406.70,235.40 Z" fill="rgb(220,120,170)" fill-opacity="0.2" stroke="rgb(220,120,170)" stroke-opacity="0.2" stroke-width="1"/>
<path d="M406.70,235.40 L410.05,235.31 L413.40,235.10 L416.76,234.80 L420.11,234.40 L423.46,233.93 L426.81,233.38 L430.16,232.75 L433.52,232.06 L436.87,231.29 L440.22,230.46 L443.57,229.57 L446.92,228.61 L450.28,227.59 L453.63,226.51 L456.98,225.38 L460.33,224.18 L463.68,222.93 L467.04,221.62 L470.39,220.25 L473.74,218.83 L477.09,217.36 L480.44,215.83 L483.80,214.25 L487.15,212.61 L490.50,210.93 L493.85,209.20 L497.20,207.41 L500.56,205.57 L503.91,203.69 L507.26,201.75 L510.61,199.77 L513.96,197.74 L517.32,195.66 L520.67,193.53 L524.02,191.35 L527.37,189.13 L530.72,186.86 L534.08,184.55 L537.43,182.19 L540.78,179.78 L544.13,177.33 L547.49,174.83 L550.84,172.29 L554.19,169.70 L557.54,167.07 L560.89,164.40 L564.25,161.68 L567.60,158.92 L570.95,156.11 L574.30,153.27 L577.65,150.37 L581.01,147.44 L584.36,144.46 L587.71,141.45 L591.06,138.39 L594.41,135.28 L597.77,132.14 L601.12,128.95 L604.47,125.73 L607.82,122.46 L611.17,119.15 L614.53,115.80 L617.88,112.41 L621.23,108.98 L624.58,105.51 L627.93,102.00 L631.29,98.45 L634.64,94.85 L637.99,91.22 L641.34,87.55 L644.69,83.84 L648.05,80.10 L651.40,76.31 L654.75,72.48 L658.10,68.62 L661.45,64.71 L664.81,60.77 L668.16,56.79 L671.51,52.77" fill="none" stroke="#FF1F5B" stroke-width="1.9"/>
<path d="M406.70,235.40 L410.05,235.30 L413.40,235.13 L416.76,234.90 L420.11,234.64 L423.46,234.33 L426.81,233.91 L430.16,233.42 L433.52,232.85 L436.87,232.23 L440.22,231.58 L443.57,230.87 L446.92,230.08 L450.28,229.20 L453.63,228.26 L456.98,227.24 L460.33,226.15 L463.68,225.01 L467.04,223.82 L470.39,222.58 L473.74,221.29 L477.09,219.97 L480.44,218.62 L483.80,217.22 L487.15,215.74 L490.50,214.17 L493.85,212.53 L497.20,210.82 L500.56,209.04 L503.91,207.20 L507.26,205.29 L510.61,203.33 L513.96,201.32 L517.32,199.26 L520.67,197.16 L524.02,195.01 L527.37,192.83 L530.72,190.62 L534.08,188.38 L537.43,186.12 L540.78,183.83 L544.13,181.52 L547.49,179.13 L550.84,176.64 L554.19,174.07 L557.54,171.43 L560.89,168.71 L564.25,165.94 L567.60,163.11 L570.95,160.23 L574.30,157.31 L577.65,154.36 L581.01,151.39 L584.36,148.39 L587.71,145.39 L591.06,142.38 L594.41,139.37 L597.77,136.37 L601.12,133.39 L604.47,130.44 L607.82,127.51 L611.17,124.63 L614.53,121.80 L617.88,119.01 L621.23,116.25 L624.58,113.48 L627.93,110.68 L631.29,107.84 L634.64,104.92 L637.99,101.91 L641.34,98.77 L644.69,95.49 L648.05,92.06 L651.40,88.48 L654.75,84.77 L658.10,80.92 L661.45,76.96 L664.81,72.89 L668.16,68.72 L671.51,64.46" fill="none" stroke="#2B93DB" stroke-width="1.9" stroke-dasharray="6.8 3.1"/>
<path d="M406.70,235.40 L410.05,235.16 L413.40,234.74 L416.76,234.19 L420.11,233.56 L423.46,232.84 L426.81,232.06 L430.16,231.21 L433.52,230.30 L436.87,229.33 L440.22,228.32 L443.57,227.25 L446.92,226.14 L450.28,224.98 L453.63,223.78 L456.98,222.54 L460.33,221.26 L463.68,219.95 L467.04,218.59 L470.39,217.20 L473.74,215.78 L477.09,214.32 L480.44,212.82 L483.80,211.30 L487.15,209.74 L490.50,208.16 L493.85,206.54 L497.20,204.89 L500.56,203.22 L503.91,201.52 L507.26,199.78 L510.61,198.03 L513.96,196.24 L517.32,194.43 L520.67,192.59 L524.02,190.73 L527.37,188.84 L530.72,186.92 L534.08,184.99 L537.43,183.02 L540.78,181.04 L544.13,179.03 L547.49,176.99 L550.84,174.94 L554.19,172.86 L557.54,170.76 L560.89,168.64 L564.25,166.49 L567.60,164.33 L570.95,162.14 L574.30,159.93 L577.65,157.70 L581.01,155.45 L584.36,153.18 L587.71,150.89 L591.06,148.58 L594.41,146.25 L597.77,143.90 L601.12,141.53 L604.47,139.14 L607.82,136.74 L611.17,134.31 L614.53,131.86 L617.88,129.40 L621.23,126.92 L624.58,124.42 L627.93,121.90 L631.29,119.36 L634.64,116.81 L637.99,114.23 L641.34,111.64 L644.69,109.04 L648.05,106.41 L651.40,103.77 L654.75,101.11 L658.10,98.43 L661.45,95.74 L664.81,93.03 L668.16,90.30 L671.51,87.56" fill="none" stroke="#A64FC2" stroke-width="1.9" stroke-dasharray="11.9 2.9 2 2.9"/>
<path d="M406.70,235.40 L410.05,234.83 L413.40,234.23 L416.76,233.60 L420.11,232.93 L423.46,232.23 L426.81,231.49 L430.16,230.71 L433.52,229.90 L436.87,229.07 L440.22,228.21 L443.57,227.35 L446.92,226.46 L450.28,225.56 L453.63,224.64 L456.98,223.69 L460.33,222.73 L463.68,221.75 L467.04,220.74 L470.39,219.71 L473.74,218.66 L477.09,217.58 L480.44,216.48 L483.80,215.33 L487.15,214.13 L490.50,212.88 L493.85,211.58 L497.20,210.25 L500.56,208.89 L503.91,207.50 L507.26,206.11 L510.61,204.70 L513.96,203.30 L517.32,201.90 L520.67,200.52 L524.02,199.16 L527.37,197.80 L530.72,196.44 L534.08,195.08 L537.43,193.72 L540.78,192.34 L544.13,190.96 L547.49,189.57 L550.84,188.16 L554.19,186.73 L557.54,185.28 L560.89,183.81 L564.25,182.31 L567.60,180.78 L570.95,179.23 L574.30,177.66 L577.65,176.07 L581.01,174.47 L584.36,172.87 L587.71,171.26 L591.06,169.66 L594.41,168.05 L597.77,166.44 L601.12,164.82 L604.47,163.19 L607.82,161.56 L611.17,159.92 L614.53,158.26 L617.88,156.61 L621.23,154.94 L624.58,153.27 L627.93,151.60 L631.29,149.92 L634.64,148.23 L637.99,146.54 L641.34,144.85 L644.69,143.15 L648.05,141.44 L651.40,139.73 L654.75,138.01 L658.10,136.29 L661.45,134.56 L664.81,132.82 L668.16,131.08 L671.51,129.33" fill="none" stroke="#F2771C" stroke-width="2.3" stroke-dasharray="2.5 3.2"/>
</g>
<rect x="406.70" y="4.40" width="271.60" height="231.00" fill="none" stroke="#303030" stroke-width="1.3"/>
<line x1="406.70" y1="235.40" x2="406.70" y2="239.20" stroke="#303030" stroke-width="1.2"/>
<line x1="474.60" y1="235.40" x2="474.60" y2="239.20" stroke="#303030" stroke-width="1.2"/>
<line x1="542.50" y1="235.40" x2="542.50" y2="239.20" stroke="#303030" stroke-width="1.2"/>
<line x1="610.40" y1="235.40" x2="610.40" y2="239.20" stroke="#303030" stroke-width="1.2"/>
<line x1="678.30" y1="235.40" x2="678.30" y2="239.20" stroke="#303030" stroke-width="1.2"/>
<line x1="402.90" y1="235.40" x2="406.70" y2="235.40" stroke="#303030" stroke-width="1.2"/>
<line x1="402.90" y1="196.90" x2="406.70" y2="196.90" stroke="#303030" stroke-width="1.2"/>
<line x1="402.90" y1="158.40" x2="406.70" y2="158.40" stroke="#303030" stroke-width="1.2"/>
<line x1="402.90" y1="119.90" x2="406.70" y2="119.90" stroke="#303030" stroke-width="1.2"/>
<line x1="402.90" y1="81.40" x2="406.70" y2="81.40" stroke="#303030" stroke-width="1.2"/>
<line x1="402.90" y1="42.90" x2="406.70" y2="42.90" stroke="#303030" stroke-width="1.2"/>
<line x1="402.90" y1="4.40" x2="406.70" y2="4.40" stroke="#303030" stroke-width="1.2"/>
<text x="402.86" y="253.00" font-size="13.3" textLength="7.68" lengthAdjust="spacingAndGlyphs" fill="#000">0</text>
<text x="470.74" y="253.00" font-size="13.3" textLength="7.74" lengthAdjust="spacingAndGlyphs" fill="#000">5</text>
<text x="534.32" y="253.00" font-size="13.3" textLength="15.84" lengthAdjust="spacingAndGlyphs" fill="#000">10</text>
<text x="602.21" y="253.00" font-size="13.3" textLength="15.89" lengthAdjust="spacingAndGlyphs" fill="#000">15</text>
<text x="670.50" y="253.00" font-size="13.3" textLength="15.44" lengthAdjust="spacingAndGlyphs" fill="#000">20</text>
<text x="390.68" y="240.05" font-size="13.3" textLength="7.45" lengthAdjust="spacingAndGlyphs" fill="#000">0</text>
<text x="382.28" y="201.55" font-size="13.3" textLength="15.88" lengthAdjust="spacingAndGlyphs" fill="#000">20</text>
<text x="382.68" y="163.05" font-size="13.3" textLength="15.46" lengthAdjust="spacingAndGlyphs" fill="#000">40</text>
<text x="382.27" y="124.55" font-size="13.3" textLength="15.88" lengthAdjust="spacingAndGlyphs" fill="#000">60</text>
<text x="382.38" y="86.05" font-size="13.3" textLength="15.77" lengthAdjust="spacingAndGlyphs" fill="#000">80</text>
<text x="374.94" y="47.55" font-size="13.3" textLength="23.20" lengthAdjust="spacingAndGlyphs" fill="#000">100</text>
<text x="374.94" y="9.05" font-size="13.3" textLength="23.20" lengthAdjust="spacingAndGlyphs" fill="#000">120</text>
<rect x="59.6" y="9.4" width="112.10" height="88.90" rx="2.2" fill="#fff" fill-opacity="0.8" stroke="#d3d3d3" stroke-width="1"/>
<line x1="62.5" y1="17.50" x2="82.3" y2="17.50" stroke="#FF1F5B" stroke-width="1.9"/>
<text x="89.85" y="21.10" font-size="10.4" textLength="72.57" lengthAdjust="spacingAndGlyphs" fill="#000">Weak invasion</text>
<line x1="62.5" y1="35.40" x2="82.3" y2="35.40" stroke="#2B93DB" stroke-width="1.9" stroke-dasharray="6.8 3.1"/>
<text x="89.38" y="39.00" font-size="10.4" textLength="78.56" lengthAdjust="spacingAndGlyphs" fill="#000">Strong invasion</text>
<line x1="62.5" y1="53.30" x2="82.3" y2="53.30" stroke="#A64FC2" stroke-width="1.9" stroke-dasharray="11.9 2.9 2 2.9"/>
<text x="89.38" y="56.90" font-size="10.4" textLength="75.75" lengthAdjust="spacingAndGlyphs" fill="#000">Strong evasion</text>
<line x1="62.5" y1="71.10" x2="82.3" y2="71.10" stroke="#F2771C" stroke-width="2.3" stroke-dasharray="2.5 3.2"/>
<text x="89.85" y="74.70" font-size="10.4" textLength="69.67" lengthAdjust="spacingAndGlyphs" fill="#000">Weak evasion</text>
<rect x="63" y="85.35" width="18.8" height="7.3" fill="#eee" stroke="#e2e2e2" stroke-width="0.6"/>
<text x="88.97" y="92.60" font-size="10.4" textLength="36.86" lengthAdjust="spacingAndGlyphs" fill="#000">95% CI</text>
<text x="196.57" y="228.00" font-size="12.8" textLength="123.54" lengthAdjust="spacingAndGlyphs" fill="#000">Symmetric equation</text>
<text x="542.57" y="227.90" font-size="12.8" textLength="129.73" lengthAdjust="spacingAndGlyphs" fill="#000">Asymmetric equation</text>
<text transform="rotate(-90)" x="-166.39" y="14.00" font-size="12.9" font-style="italic" textLength="8.43" lengthAdjust="spacingAndGlyphs" fill="#000" style="stroke-width:0.12px">K</text>
<text transform="rotate(-90)" x="-157.76" y="8.80" font-size="8.4" textLength="11.81" lengthAdjust="spacingAndGlyphs" fill="#000" style="stroke-width:0.12px">2D</text>
<text transform="rotate(-90)" x="-145.34" y="15.00" font-size="8.4" textLength="5.92" lengthAdjust="spacingAndGlyphs" fill="#000" style="stroke-width:0.12px">_</text>
<text transform="rotate(-90)" x="-139.49" y="15.20" font-size="8.4" textLength="10.01" lengthAdjust="spacingAndGlyphs" fill="#000" style="stroke-width:0.12px">Sy</text>
<text transform="rotate(-90)" x="-126.19" y="14.00" font-size="12.9" textLength="36.03" lengthAdjust="spacingAndGlyphs" fill="#000" style="stroke-width:0.12px">(cm h</text>
<text transform="rotate(-90)" x="-89.14" y="9.20" font-size="8.4" textLength="10.18" lengthAdjust="spacingAndGlyphs" fill="#000" style="stroke-width:0.12px">−1</text>
<text transform="rotate(-90)" x="-76.46" y="14.00" font-size="12.9" textLength="3.64" lengthAdjust="spacingAndGlyphs" fill="#000" style="stroke-width:0.12px">)</text>
<text transform="rotate(-90)" x="-169.09" y="367.00" font-size="12.9" font-style="italic" textLength="8.43" lengthAdjust="spacingAndGlyphs" fill="#000" style="stroke-width:0.12px">K</text>
<text transform="rotate(-90)" x="-160.46" y="361.80" font-size="8.4" textLength="11.81" lengthAdjust="spacingAndGlyphs" fill="#000" style="stroke-width:0.12px">2D</text>
<text transform="rotate(-90)" x="-148.14" y="368.00" font-size="8.4" textLength="5.92" lengthAdjust="spacingAndGlyphs" fill="#000" style="stroke-width:0.12px">_</text>
<text transform="rotate(-90)" x="-141.42" y="368.20" font-size="8.4" textLength="14.63" lengthAdjust="spacingAndGlyphs" fill="#000" style="stroke-width:0.12px">Asy</text>
<text transform="rotate(-90)" x="-122.89" y="367.00" font-size="12.9" textLength="35.92" lengthAdjust="spacingAndGlyphs" fill="#000" style="stroke-width:0.12px">(cm h</text>
<text transform="rotate(-90)" x="-85.94" y="362.20" font-size="8.4" textLength="10.18" lengthAdjust="spacingAndGlyphs" fill="#000" style="stroke-width:0.12px">−1</text>
<text transform="rotate(-90)" x="-73.26" y="367.00" font-size="12.9" textLength="3.64" lengthAdjust="spacingAndGlyphs" fill="#000" style="stroke-width:0.12px">)</text>
<text x="155.65" y="270.80" font-size="12.9" font-style="italic" textLength="9.19" lengthAdjust="spacingAndGlyphs" fill="#000">U</text>
<text x="165.47" y="272.50" font-size="9.0" textLength="10.60" lengthAdjust="spacingAndGlyphs" fill="#000">10</text>
<text x="180.16" y="270.80" font-size="12.9" textLength="26.43" lengthAdjust="spacingAndGlyphs" fill="#000">(m s</text>
<text x="207.27" y="266.20" font-size="9.0" textLength="12.25" lengthAdjust="spacingAndGlyphs" fill="#000">−1</text>
<text x="220.54" y="270.80" font-size="12.9" textLength="3.39" lengthAdjust="spacingAndGlyphs" fill="#000">)</text>
<text x="508.25" y="270.80" font-size="12.9" font-style="italic" textLength="9.19" lengthAdjust="spacingAndGlyphs" fill="#000">U</text>
<text x="518.07" y="272.50" font-size="9.0" textLength="10.60" lengthAdjust="spacingAndGlyphs" fill="#000">10</text>
<text x="532.76" y="270.80" font-size="12.9" textLength="26.43" lengthAdjust="spacingAndGlyphs" fill="#000">(m s</text>
<text x="559.87" y="266.20" font-size="9.0" textLength="12.25" lengthAdjust="spacingAndGlyphs" fill="#000">−1</text>
<text x="573.14" y="270.80" font-size="12.9" textLength="3.39" lengthAdjust="spacingAndGlyphs" fill="#000">)</text>
<text x="0.26" y="11.40" font-size="13.2" font-weight="bold" textLength="9.96" lengthAdjust="spacingAndGlyphs" fill="#000" style="stroke-width:0.5px;stroke-opacity:1">A</text>
<text x="352.97" y="11.70" font-size="13.2" font-weight="bold" textLength="10.07" lengthAdjust="spacingAndGlyphs" fill="#000" style="stroke-width:0.5px;stroke-opacity:1">B</text>
</svg></body></html>
